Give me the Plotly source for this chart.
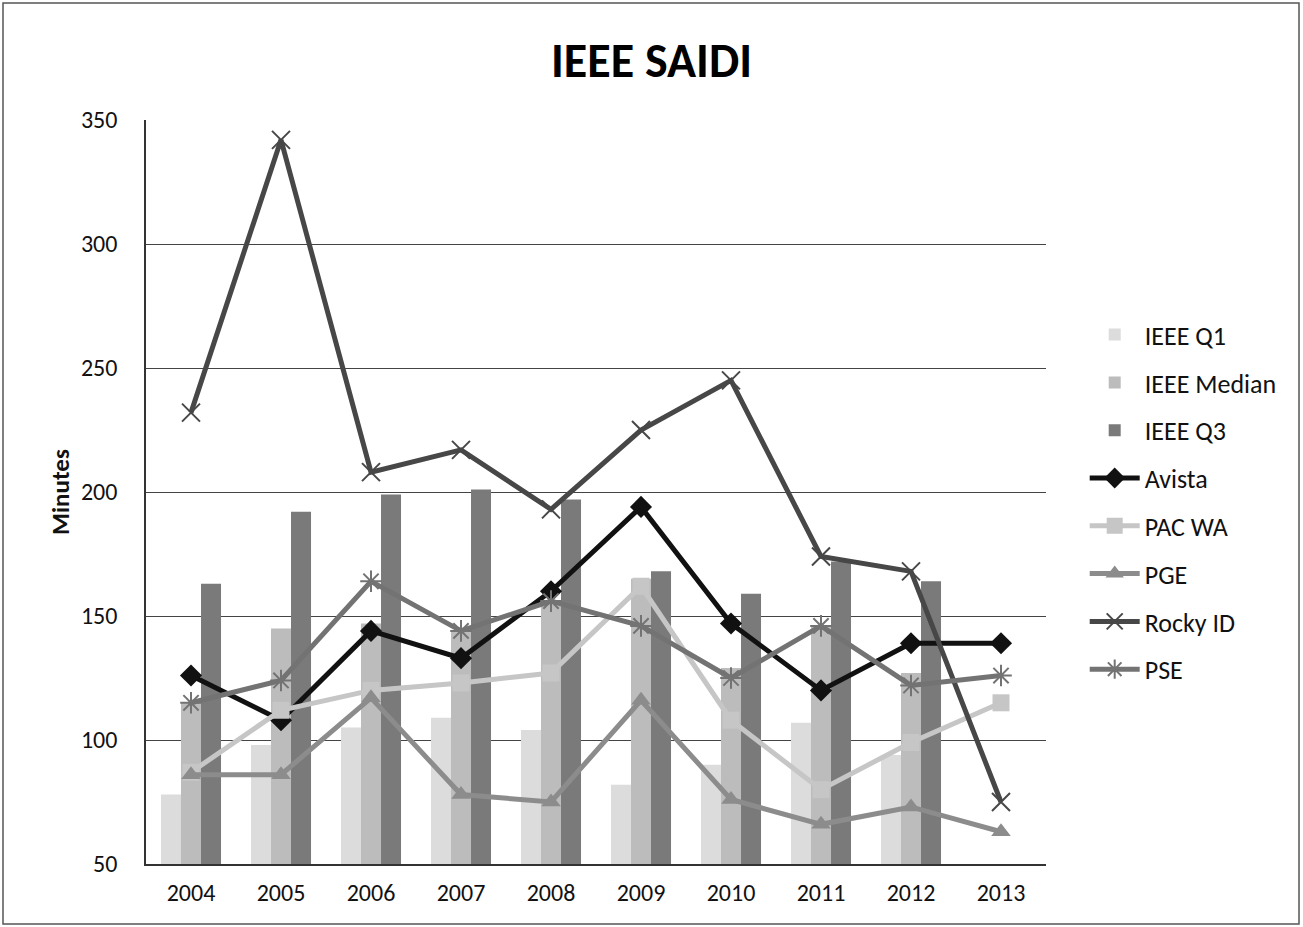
import plotly.graph_objects as go

years = ["2004", "2005", "2006", "2007", "2008", "2009", "2010", "2011", "2012", "2013"]
bar_years = years[:9]

ieee_q1 = [78, 98, 105, 109, 104, 82, 90, 107, 94]
ieee_median = [115, 145, 147, 144, 155, 165, 129, 146, 127]
ieee_q3 = [163, 192, 199, 201, 197, 168, 159, 172, 164]

avista = [126, 108, 144, 133, 160, 194, 147, 120, 139, 139]
pac_wa = [87, 112, 120, 123, 127, 162, 108, 80, 99, 115]
pge = [86, 86, 117, 78, 75, 116, 76, 66, 73, 63]
rocky_id = [232, 342, 208, 217, 193, 225, 245, 174, 168, 75]
pse = [115, 124, 164, 144, 156, 146, 125, 146, 122, 126]

FONT = "Carlito, Lato, 'Open Sans', sans-serif"

fig = go.Figure()

for name, vals, col in [("IEEE Q1", ieee_q1, "#dcdcdc"),
                        ("IEEE Median", ieee_median, "#bcbcbc"),
                        ("IEEE Q3", ieee_q3, "#7a7a7a")]:
    fig.add_trace(go.Bar(x=bar_years, y=vals, name=name, marker_color=col,
                         marker_line_width=0, legendgroup=name))

lines = [
    ("Avista", avista, "#111111", dict(symbol="diamond", size=17, color="#111111")),
    ("PAC WA", pac_wa, "#c6c6c6", dict(symbol="square", size=17, color="#c6c6c6")),
    ("PGE", pge, "#8c8c8c", dict(symbol="triangle-up", size=17, color="#8c8c8c")),
    ("Rocky ID", rocky_id, "#474747", dict(symbol="x-thin-open", size=18,
                                            line=dict(width=2, color="#333333"))),
    ("PSE", pse, "#737373", dict(symbol="asterisk-open", size=18,
                                  line=dict(width=2, color="#555555"))),
]
for name, vals, col, mk in lines:
    fig.add_trace(go.Scatter(x=years, y=vals, name=name, mode="lines+markers",
                             line=dict(color=col, width=5), marker=mk,
                             legendgroup=name))

fig.update_layout(
    width=1303, height=927,
    paper_bgcolor="white", plot_bgcolor="white",
    margin=dict(l=146, r=257, t=120, b=63),
    barmode="group", bargap=0.333, bargroupgap=0,
    font=dict(family=FONT, size=24, color="#111111"),
    title=dict(text="<b>IEEE SAIDI</b>", x=0.5, xanchor="center", y=0.935,
               yanchor="middle", font=dict(size=48, family=FONT, color="#000000")),
    showlegend=True,
    legend=dict(x=1.043, xanchor="left", y=0.743, yanchor="top",
                font=dict(size=26, family=FONT, color="#111111"),
                tracegroupgap=11, traceorder="grouped", itemwidth=50,
                bgcolor="rgba(0,0,0,0)"),
    xaxis=dict(type="category", categoryorder="array", categoryarray=years,
               range=[-0.5, 9.5], autorange=False,
               showgrid=False, showline=True, linecolor="#333333", linewidth=1.5,
               ticks="", tickfont=dict(size=24), ticklabelstandoff=6),
    yaxis=dict(range=[50, 350], dtick=50, tick0=50, showgrid=True,
               gridcolor="#444444", gridwidth=1.2, showline=True,
               linecolor="#333333", linewidth=1.5, ticks="", zeroline=False,
               tickfont=dict(size=24), ticklabelstandoff=22,
               title=dict(text="<b>Minutes</b>", font=dict(size=25), standoff=4)),
    shapes=[dict(type="rect", xref="paper", yref="paper",
                 x0=-143/900, x1=1.0 + 253/900, y0=-60/744, y1=1.0 + 117/744,
                 line=dict(color="#555555", width=1.5), fillcolor="rgba(0,0,0,0)")],
)

fig.write_html("out.html", config={"displayModeBar": False},
               post_script="document.body.style.margin='0';document.body.style.overflow='hidden';")
